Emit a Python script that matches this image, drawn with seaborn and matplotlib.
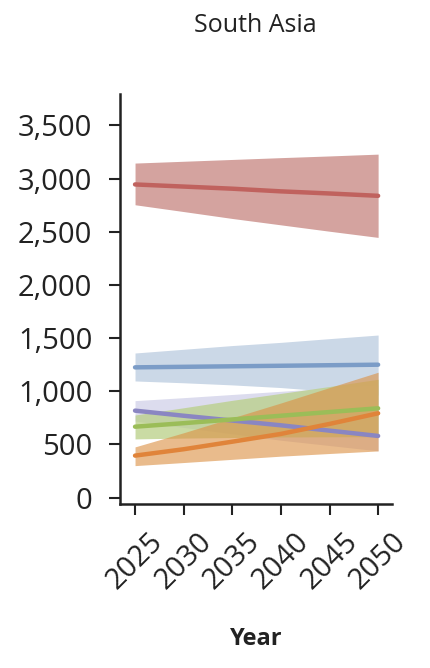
import numpy as np
import pandas as pd
import seaborn as sns
import matplotlib
matplotlib.use("Agg")
import matplotlib.pyplot as plt

years = [2025, 2030, 2035, 2040, 2045, 2050]

red_mid = [2945, 2925, 2905, 2880, 2860, 2838]
red_lo = [2754, 2690, 2625, 2565, 2505, 2447]
red_hi = [3146, 3163, 3180, 3197, 3213, 3230]

blue_mid = [1225, 1230, 1235, 1240, 1245, 1250]
blue_lo = [1097, 1080, 1060, 1035, 1000, 965]
blue_hi = [1360, 1395, 1430, 1460, 1495, 1529]

purple_mid = [818, 770, 725, 680, 630, 580]
purple_lo = [720, 660, 600, 540, 490, 440]
purple_hi = [912, 940, 970, 1000, 1030, 1060]

green_mid = [667, 700, 735, 770, 805, 840]
green_lo = [552, 560, 565, 570, 572, 573]
green_hi = [777, 845, 915, 980, 1045, 1113]

orange_mid = [395, 455, 526, 599, 693, 793]
orange_lo = [301, 330, 360, 390, 415, 439]
orange_hi = [477, 610, 750, 890, 1035, 1179]

yticks = [0, 500, 1000, 1500, 2000, 2500, 3000, 3500]
ytick_labels = ["0", "500", "1,000", "1,500", "2,000", "2,500", "3,000", "3,500"]

series = [
    ("red", red_mid, red_lo, red_hi, "#c0625e", "#d4a39f"),
    ("blue", blue_mid, blue_lo, blue_hi, "#7b9cc7", "#cbd8e7"),
    ("purple", purple_mid, purple_lo, purple_hi, "#8a86c2", "#dcdcee"),
    ("green", green_mid, green_lo, green_hi, "#9bbd58", "#b9cf86"),
    ("orange", orange_mid, orange_lo, orange_hi, "#e0843a", "#dc9145"),
]

sns.set_theme(style="ticks")
plt.rcParams['font.family'] = ['Open Sans', 'DejaVu Sans']

fig = plt.figure(figsize=(4.3, 6.68), dpi=100)
ax = fig.add_axes([0.279, 0.2455, 0.632, 0.6145])

alphas = {"red": 1.0, "blue": 1.0, "purple": 1.0, "green": 0.75, "orange": 0.62}
for name, mid, lo, hi, lc, bc in series:
    ax.fill_between(years, lo, hi, color=bc, alpha=alphas[name], linewidth=0, zorder=1)

rows = []
for name, mid, lo, hi, lc, bc in series:
    for y, v in zip(years, mid):
        rows.append({"Year": y, "Value": v, "Series": name})
df = pd.DataFrame(rows)
palette = {s[0]: s[4] for s in series}
sns.lineplot(data=df, x="Year", y="Value", hue="Series", palette=palette,
             linewidth=3.2, ax=ax, legend=False, zorder=3)

ax.set_xlim(2023.45, 2051.4)
ax.set_ylim(-60, 3800)
ax.set_xticks(years)
ax.set_xticklabels([str(y) for y in years], rotation=45, fontsize=21,
                   color="#222222")
ax.set_yticks(yticks)
ax.set_yticklabels(ytick_labels, fontsize=21, color="#222222")
ax.tick_params(axis="x", length=8, width=1.5, color="#222222", pad=9)
ax.tick_params(axis="y", length=8, width=1.5, color="#222222", pad=12)
for s in ["left", "bottom"]:
    ax.spines[s].set_linewidth(1.8)
    ax.spines[s].set_color("#222222")
for s in ["top", "right"]:
    ax.spines[s].set_visible(False)
ax.set_ylabel("")
ax.set_xlabel("Year", fontsize=17, fontweight="bold", color="#222222", labelpad=23)
fig.text(0.593, 0.962, "South Asia", ha="center", va="center", fontsize=18,
         color="#222222")

fig.savefig("out.png", dpi=100)
